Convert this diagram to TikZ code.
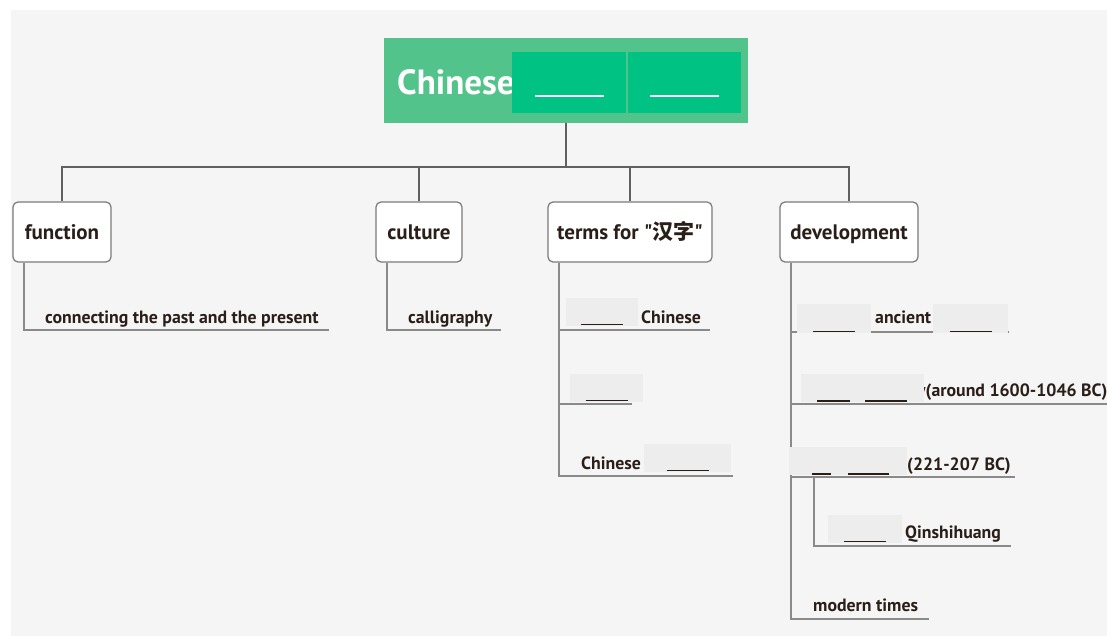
\documentclass[tikz,border=0pt]{standalone}
\usepackage{fontspec}
\setmainfont{PT Sans}[Ligatures=TeXOff]
\newfontfamily\cjk{Noto Sans CJK SC}
\usepackage{tikz}
\usetikzlibrary{positioning,calc}
\definecolor{mapbg}{HTML}{F5F5F5}
\definecolor{rootgreen}{HTML}{52C38A}
\definecolor{slotgreen}{HTML}{00C383}
\definecolor{ink}{HTML}{2A1E18}
\definecolor{boxgray}{HTML}{7A7A7A}
\definecolor{linegray}{HTML}{8A8A8A}
\definecolor{trunkgray}{HTML}{606060}
\definecolor{gapfill}{HTML}{EDEDED}
\newcommand\rootfont{\fontsize{35}{40}\selectfont\bfseries}
\newcommand\topicfont{\fontsize{21}{24}\selectfont\bfseries}
\newcommand\leaffont{\fontsize{17.8}{21}\selectfont\bfseries}
\tikzset{
  topic/.style={rectangle, rounded corners=5pt, draw=boxgray, line width=1.2pt,
                fill=white, minimum height=60pt, inner sep=0pt,
                text height=18pt, text depth=2pt,
                font=\topicfont, text=ink},
  leaf/.style={anchor=base west, inner sep=0pt, font=\leaffont, text=ink},
  gap/.style={rectangle, fill=gapfill, inner sep=0pt, anchor=north west},
  blank/.style={gap, path picture={
      \draw[ink, line width=1.5pt]
        ([xshift=-21pt,yshift=1.5pt]path picture bounding box.south) --
        ([xshift=21pt,yshift=1.5pt]path picture bounding box.south);}},
  gapline/.style={ink, line width=1.5pt},
  branch/.style={draw=linegray, line width=2pt},
  trunk/.style={draw=trunkgray, line width=2.6pt},
}

\begin{document}
\begin{tikzpicture}[
  x=1pt, y=-1pt,
  rootbox/.style={rectangle, fill=rootgreen, inner sep=0pt,
                  minimum width=364pt, minimum height=85pt},
  slot/.style={rectangle, fill=slotgreen, inner sep=0pt,
               minimum width=114pt, minimum height=61pt,
               path picture={
      \draw[white, line width=2pt]
        ([xshift=-34.5pt,yshift=17pt]path picture bounding box.south) --
        ([xshift=34.5pt,yshift=17pt]path picture bounding box.south);}}
]
  \useasboundingbox (0,0) rectangle (1107,636);
  \fill[mapbg] (11,10) rectangle (1107,636);

  % root
  \node[rootbox] (root) at (566,80.5) {};
  \node[anchor=base west, inner sep=0pt, font=\rootfont, text=white]
    (rootword) at (397,95) {Chinese};
  \node[slot] (slotA) at (569,82.5) {};
  \node[slot, minimum width=113pt] (slotB) at (684.5,82.5) {};

  % topics
  \node[topic, minimum width=98pt]  (fn)  at (62,232)  {function};
  \node[topic, minimum width=86pt]  (cul) at (419,232) {culture};
  \node[topic, minimum width=164pt] (trm) at (630,232) {terms for "{\cjk 汉字}"};
  \node[topic, minimum width=138pt] (dev) at (849,232) {development};

  \draw[trunk] (root.south) -- ++(0,44) coordinate (hub);
  \foreach \t in {fn, cul, trm, dev}
    \draw[trunk] (hub) -| (\t.north);

  % branch ends
  \coordinate (e1) at (329,330);
  \coordinate (e2) at (501,330);
  \coordinate (e3) at (710,330);
  \coordinate (e4) at (632,404);
  \coordinate (e5) at (733,476);
  \coordinate (e6) at (1009,332);
  \coordinate (e7) at (1107,403.5);
  \coordinate (e8) at (1015,476.5);
  \coordinate (e9) at (1011,546);
  \coordinate (e10) at (929,619);
  \coordinate (q0) at (814,476.5);

  \foreach \p/\e in {fn/e1, cul/e2, trm/e3, trm/e4, trm/e5,
                     dev/e6, dev/e7, dev/e8, dev/e10}
    \draw[branch] ([xshift=12pt]\p.south west) |- (\e);
  \draw[branch] (q0) |- (e9);

  % leaves
  \node[leaf] (l1) at (45,323) {connecting the past and the present};
  \node[leaf] (l2) at (408,323) {calligraphy};
  \node[leaf] (l3) at (641,323) {Chinese};
  \node[leaf] (l4) at (581,469) {Chinese};
  \node[leaf] (l5) at (875,323) {ancient};
  \node[leaf] (l6) at (917,396) {y(around 1600-1046 BC)};
  \node[leaf] (l7) at (907,470) {(221-207 BC)};
  \node[leaf] (l8) at (905,538) {Qinshihuang};
  \node[leaf] (l9) at (813,611) {modern times};

  % blanks
  \node[blank, minimum width=72pt, minimum height=28pt] (g1) at (566,298) {};
  \node[blank, minimum width=73pt, minimum height=28pt] (g2) at (570,374) {};
  \node[blank, minimum width=87pt, minimum height=28pt] (g3) at (644,444) {};
  \node[blank, minimum width=74pt, minimum height=29pt] (g4) at (797,304) {};
  \node[blank, minimum width=75pt, minimum height=29pt] (g5) at (933,304) {};
  \node[blank, minimum width=74pt, minimum height=28pt] (g8) at (828,515) {};
  \node[gap, minimum width=123pt, minimum height=28pt] (g6) at (801,374) {};
  \node[gap, minimum width=118pt, minimum height=28pt] (g7) at (789,447) {};
  \draw[gapline] ([xshift=16pt,yshift=1.5pt]g6.south west) -- ++(33,0);
  \draw[gapline] ([xshift=64pt,yshift=1.5pt]g6.south west) -- ++(42,0);
  \draw[gapline] ([xshift=23pt,yshift=1.5pt]g7.south west) -- ++(19,0);
  \draw[gapline] ([xshift=59pt,yshift=1.5pt]g7.south west) -- ++(41,0);
\end{tikzpicture}
\end{document}
